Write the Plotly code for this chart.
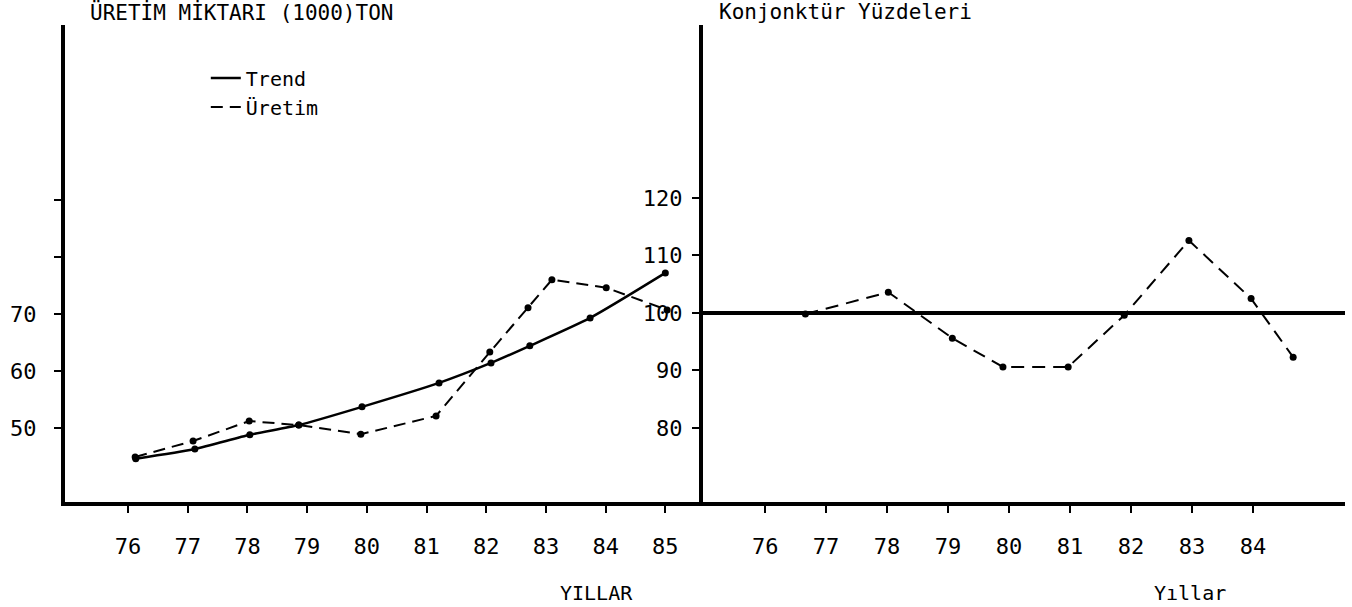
import plotly.graph_objects as go

# sol grafik: üretim miktarı (1000 ton), yıllar çizimden okundu
trend_yil = [76.13, 77.12, 78.04, 78.86, 79.92, 81.21, 82.08, 82.73, 83.74, 85.0]
trend_deger = [44.6, 46.3, 48.8, 50.5, 53.7, 57.9, 61.4, 64.4, 69.3, 77.2]

uretim_yil = [76.12, 77.09, 78.03, 78.86, 79.90, 81.16, 82.06, 82.70, 83.10, 84.01, 85.03]
uretim_deger = [44.9, 47.7, 51.2, 50.5, 48.9, 52.1, 63.3, 71.1, 76.0, 74.6, 70.7]

# sağ grafik: konjonktür yüzdeleri
konj_yil = [76.66, 78.02, 79.07, 79.90, 80.97, 81.89, 82.95, 83.97, 84.66]
konj_deger = [99.8, 103.6, 95.6, 90.6, 90.6, 99.6, 112.6, 102.5, 92.3]
konj_esas = 100

sol_yillar = list(range(76, 86))
sag_yillar = list(range(76, 85))
sol_y_ticks = [50, 60, 70, 80, 90]
sol_y_labels = ['50', '60', '70', '', '']
sag_y_ticks = [80, 90, 100, 110, 120]

FONT = "DejaVu Sans Mono"
trend_line = dict(color='black', width=2.5, shape='spline', smoothing=0.6)
uretim_line = dict(color='black', width=2, dash='12px,7px')

fig = go.Figure()

fig.add_trace(go.Scatter(x=trend_yil, y=trend_deger, mode='lines', name='Trend',
                         line=trend_line, xaxis='x', yaxis='y'))
fig.add_trace(go.Scatter(x=uretim_yil, y=uretim_deger, mode='lines', name='Üretim',
                         line=uretim_line, xaxis='x', yaxis='y'))
# noktalar
fig.add_trace(go.Scatter(x=trend_yil, y=trend_deger, mode='markers', showlegend=False,
                         marker=dict(color='black', size=7), xaxis='x', yaxis='y'))
fig.add_trace(go.Scatter(x=uretim_yil, y=uretim_deger, mode='markers', showlegend=False,
                         marker=dict(color='black', size=7), xaxis='x', yaxis='y'))

fig.add_trace(go.Scatter(x=konj_yil, y=konj_deger, mode='lines+markers', showlegend=False,
                         line=dict(color='black', width=2, dash='13px,8px'),
                         marker=dict(color='black', size=7), xaxis='x2', yaxis='y2'))

# 100 esas çizgisi
fig.add_shape(type='line', xref='x2 domain', yref='y2', x0=0, x1=1,
              y0=konj_esas, y1=konj_esas, line=dict(color='black', width=4))

axis_common = dict(showline=True, linewidth=4, linecolor='black', showgrid=False,
                   zeroline=False, ticks='outside', ticklen=7, tickwidth=2,
                   tickcolor='black', tickfont=dict(size=22, color='black'),
                   automargin=False)

fig.update_layout(
    width=1352, height=607,
    paper_bgcolor='white', plot_bgcolor='white',
    font=dict(family=FONT, color='black'),
    margin=dict(l=65, r=7, t=25, b=105),
    xaxis=dict(domain=[0, 0.4984], range=[74.945, 85.63], tickvals=sol_yillar,
               anchor='y', ticklabelstandoff=15, **axis_common),
    yaxis=dict(domain=[0, 1], range=[37.0, 120.7], tickvals=sol_y_ticks,
               ticktext=sol_y_labels, anchor='x', ticklabelstandoff=13, **axis_common),
    xaxis2=dict(domain=[0.4984, 1], range=[74.98, 85.51], tickvals=sag_yillar,
                anchor='y2', ticklabelstandoff=15, **axis_common),
    yaxis2=dict(domain=[0, 1], range=[67.1, 150.1], tickvals=sag_y_ticks,
                anchor='x2', ticklabelstandoff=5, **axis_common),
    legend=dict(x=0.11, y=0.93, xanchor='left', yanchor='top',
                font=dict(size=20), bgcolor='rgba(0,0,0,0)', tracegroupgap=0),
    showlegend=True,
)

fig.add_annotation(text='ÜRETİM MİKTARI (1000)TON', xref='paper', yref='paper',
                   x=0.018, y=1.027, xanchor='left', yanchor='middle',
                   showarrow=False, font=dict(size=21))
fig.add_annotation(text='Konjonktür Yüzdeleri', xref='paper', yref='paper',
                   x=0.509, y=1.027, xanchor='left', yanchor='middle',
                   showarrow=False, font=dict(size=21))
fig.add_annotation(text='YILLAR', xref='paper', yref='paper', x=0.4156, y=-0.19,
                   xanchor='center', yanchor='middle', showarrow=False, font=dict(size=20))
fig.add_annotation(text='Yıllar', xref='paper', yref='paper', x=0.879, y=-0.19,
                   xanchor='center', yanchor='middle', showarrow=False, font=dict(size=20))

# sayfanın varsayılan 8px kenar boşluğunu kaldır
fig.write_html("out.html", config={'displayModeBar': False},
               post_script="document.body.style.margin='0px';")
